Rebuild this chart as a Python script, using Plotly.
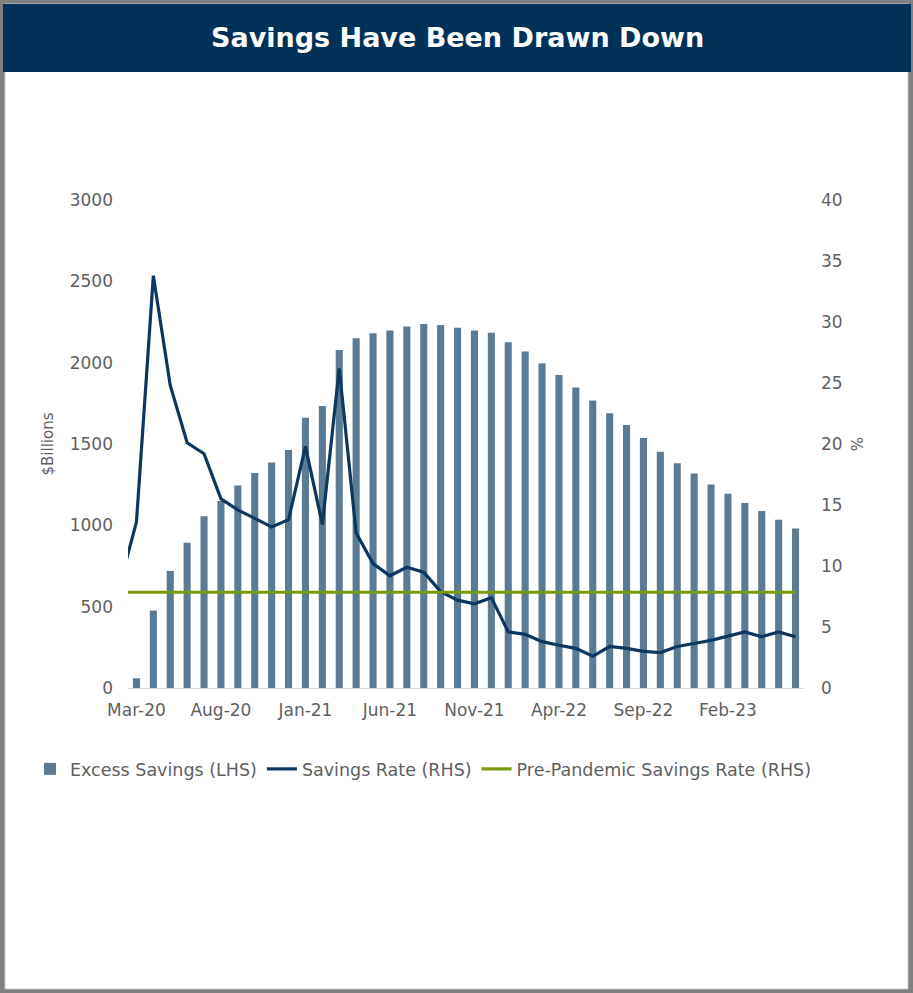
import pandas as pd
import plotly.graph_objects as go

# Monthly categories: Feb-20 .. Jun-23 (Feb-20 only anchors the savings-rate line)
months = list(pd.date_range("2020-02-01", "2023-06-01", freq="MS").strftime("%b-%y"))
bar_months = months[1:]

# Excess savings, $ billions (Mar-20 .. Jun-23)
excess_savings = [
    60, 476, 720, 893, 1056, 1150, 1245, 1321, 1387, 1463,
    1662, 1733, 2078, 2150, 2181, 2197, 2222, 2238, 2232, 2215, 2197, 2184,
    2125, 2068, 1996, 1924, 1848, 1767, 1689, 1617, 1537, 1452, 1382, 1319,
    1251, 1194, 1138, 1088, 1035, 980,
]

# Personal savings rate, % (Feb-20 .. Jun-23)
savings_rate = [
    8.4,
    13.6, 33.8, 24.8, 20.1, 19.2, 15.5, 14.6, 13.9, 13.2, 13.8,
    19.8, 13.4, 26.2, 12.7, 10.2, 9.2, 9.9, 9.5, 7.9, 7.2, 6.9, 7.4,
    4.6, 4.4, 3.8, 3.5, 3.25, 2.6, 3.4, 3.25, 3.0, 2.9, 3.4, 3.65,
    3.9, 4.25, 4.6, 4.2, 4.6, 4.2,
]

pre_pandemic_rate = [7.85] * len(months)

tick_labels = ["Mar-20", "Aug-20", "Jan-21", "Jun-21", "Nov-21", "Apr-22", "Sep-22", "Feb-23"]
left_ticks = [0, 500, 1000, 1500, 2000, 2500, 3000]
right_ticks = [0, 5, 10, 15, 20, 25, 30, 35, 40]

# Page geometry (pixels)
W, H = 913, 993
L, R, T, B = 128, 804, 200, 688

def px_x(px):
    return (px - L) / (R - L)

def px_y(py):
    return (B - py) / (B - T)

BAR_C = "#5B7B94"
LINE_C = "#0E3760"
GREEN_C = "#7A9A0A"
TXT_C = "#5F5F5F"
FONT = "DejaVu Sans"

fig = go.Figure()
fig.add_trace(go.Bar(
    x=bar_months, y=excess_savings, name="Excess Savings (LHS)",
    marker=dict(color=BAR_C, line=dict(width=0)), yaxis="y",
))
fig.add_trace(go.Scatter(
    x=months, y=savings_rate, name="Savings Rate (RHS)", mode="lines",
    line=dict(color=LINE_C, width=3.2), yaxis="y2",
))
fig.add_trace(go.Scatter(
    x=months, y=pre_pandemic_rate, name="Pre-Pandemic Savings Rate (RHS)", mode="lines",
    line=dict(color=GREEN_C, width=3.2), yaxis="y2",
))

fig.update_layout(
    width=W, height=H,
    margin=dict(l=L, r=W - R, t=T, b=H - B, pad=0),
    paper_bgcolor="#808080",
    plot_bgcolor="rgba(0,0,0,0)",
    bargap=0.58,
    font=dict(family=FONT, color=TXT_C, size=17),
    showlegend=True,
    legend=dict(
        orientation="h", x=px_x(30), xanchor="left", y=px_y(769), yanchor="middle",
        font=dict(size=17.5, color=TXT_C), bgcolor="rgba(0,0,0,0)",
        itemwidth=30, tracegroupgap=0,
    ),
    xaxis=dict(
        type="category", categoryorder="array", categoryarray=months,
        range=[0.5, len(months) - 0.5],
        tickmode="array", tickvals=tick_labels, ticktext=tick_labels,
        showline=True, linecolor="#D9D9D9", linewidth=1,
        ticks="", showgrid=False, zeroline=False,
        tickfont=dict(size=17, color=TXT_C), ticklabelstandoff=7,
    ),
    yaxis=dict(
        range=[0, 3000], tickvals=left_ticks, showgrid=False, zeroline=False,
        showline=False, ticks="", tickfont=dict(size=17, color=TXT_C),
        ticklabelstandoff=14,
        title=dict(text="$Billions", font=dict(size=15, color=TXT_C), standoff=12),
    ),
    yaxis2=dict(
        range=[0, 40], tickvals=right_ticks, overlaying="y", side="right",
        showgrid=False, zeroline=False, showline=False, ticks="",
        tickfont=dict(size=17, color=TXT_C), ticklabelstandoff=16,
        title=dict(text="%", font=dict(size=15, color=TXT_C), standoff=10),
    ),
    shapes=[
        # white page inside the grey frame
        dict(type="rect", xref="paper", yref="paper", layer="below",
             x0=px_x(5), x1=px_x(908), y0=px_y(989), y1=px_y(4),
             fillcolor="white", line=dict(color="#C8C8C8", width=1)),
        # navy title band
        dict(type="rect", xref="paper", yref="paper", layer="below",
             x0=px_x(3), x1=px_x(911), y0=px_y(72), y1=px_y(4),
             fillcolor="#003259", line=dict(width=0)),
    ],
    annotations=[
        dict(text="<b>Savings Have Been Drawn Down</b>", xref="paper", yref="paper",
             x=px_x(457), y=px_y(38), xanchor="center", yanchor="middle",
             showarrow=False, font=dict(family=FONT, size=27, color="white")),
    ],
)

fig.write_html("out.html")
